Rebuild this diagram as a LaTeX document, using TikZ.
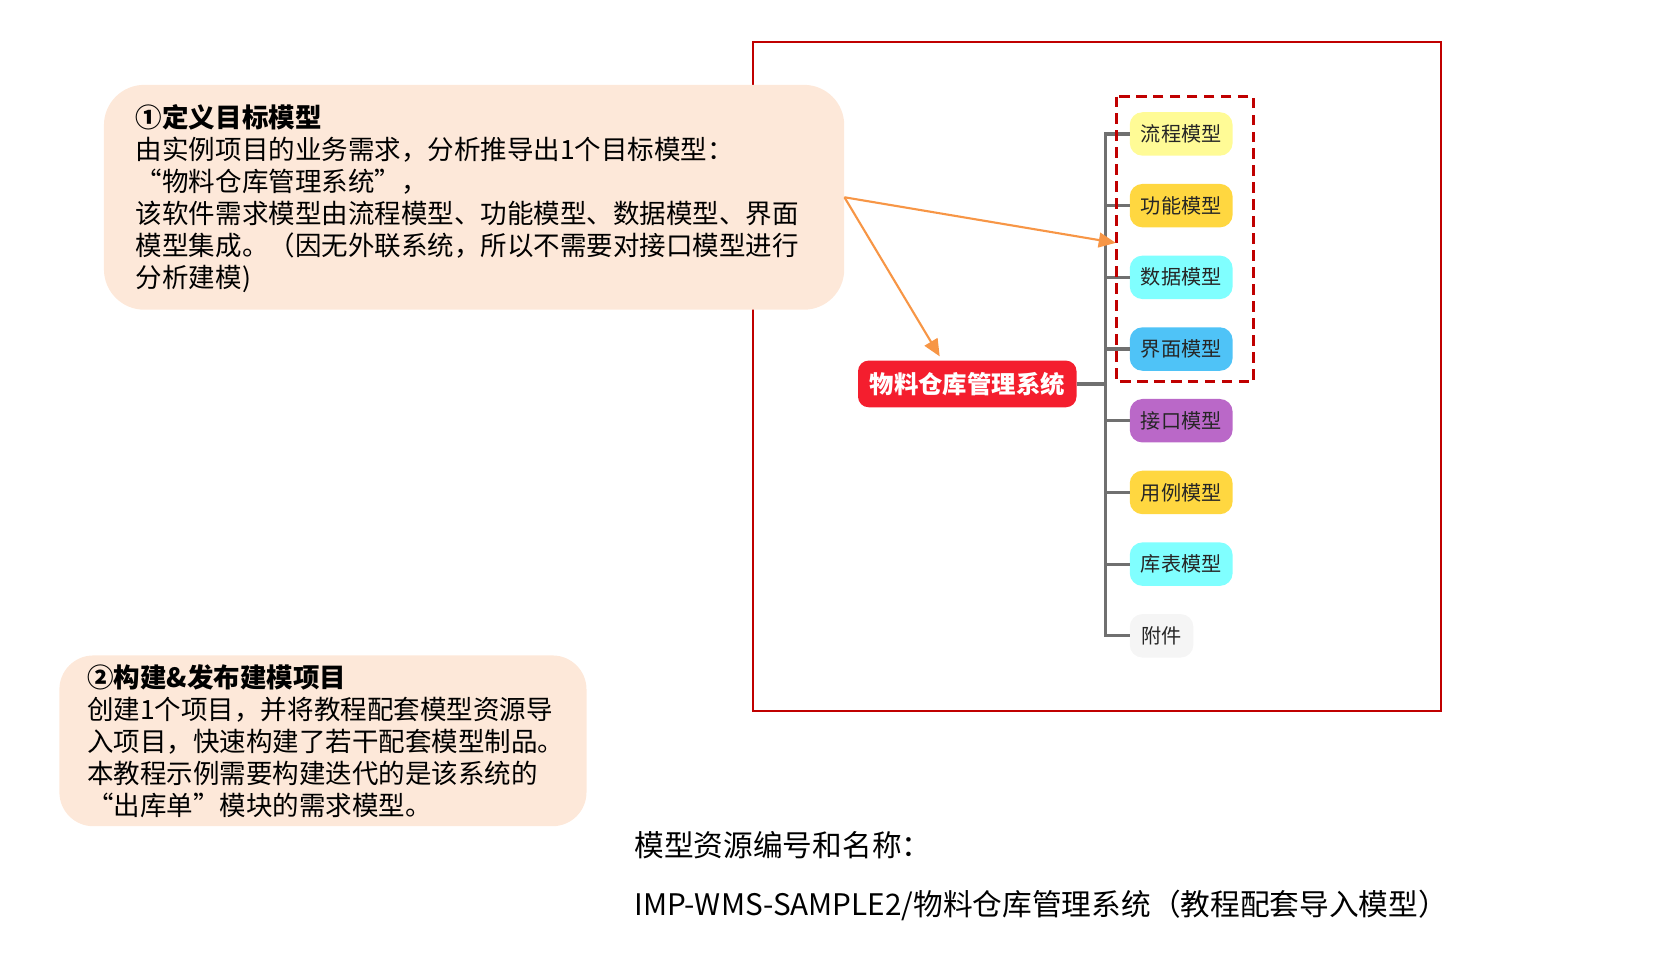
\documentclass[tikz,border=0pt]{standalone}
\usepackage{fontspec}
\setmainfont{Noto Sans CJK SC}
\usetikzlibrary{arrows.meta}
\definecolor{peach}{HTML}{FDE8D9}
\definecolor{frame}{HTML}{C00000}
\definecolor{arrowc}{HTML}{F79646}
\definecolor{conn}{HTML}{707070}
\definecolor{rootc}{HTML}{F41E2E}
\definecolor{cyel}{HTML}{FFFB96}
\definecolor{cgold}{HTML}{FFD740}
\definecolor{ccyan}{HTML}{80FFFF}
\definecolor{cblue}{HTML}{4FC3F7}
\definecolor{cpurp}{HTML}{BA68C8}
\definecolor{cgray}{HTML}{F5F5F5}
\tikzset{
  pbox/.style={fill=peach, draw=none, inner sep=0},
  txtline/.style={anchor=west, inner sep=0, text height=0.88em, text depth=0.12em, font=\fontsize{25}{30}\selectfont},
  txtbig/.style={anchor=west, inner sep=0, text height=0.88em, text depth=0.12em, font=\fontsize{28}{34}\selectfont},
  child/.style={anchor=west, inner sep=0, minimum width=97pt, minimum height=41pt, rounded corners=12pt, text=black!85, font=\fontsize{19}{22}\selectfont},
  connline/.style={draw=conn, line width=3pt},
  oarrow/.style={draw=arrowc, line width=2pt, -{Triangle[length=16pt,width=14pt]}},
}
\begin{document}
\begin{tikzpicture}[x=1pt,y=-1pt]
\useasboundingbox (0,0) rectangle (1568,905);
% red frame
\draw[frame, line width=2pt] (710,40) rectangle (1359,670);
% box 1
\node[pbox, minimum width=698pt, minimum height=212pt, rounded corners=38pt] (b1) at (447,186) {};
\node[txtline, font=\fontsize{25}{30}\selectfont\bfseries] (t10) at (128,116) {①定义目标模型};
\node[txtline] (t11) at (128,147) {由实例项目的业务需求，分析推导出1个目标模型：};
\node[txtline] (t12) at (128,177) {“物料仓库管理系统”，};
\node[txtline] (t13) at (128,207) {该软件需求模型由流程模型、功能模型、数据模型、界面};
\node[txtline] (t14) at (128,237) {模型集成。（因无外联系统，所以不需要对接口模型进行};
\node[txtline] (t15) at (128,267) {分析建模)};
% box 2
\node[pbox, minimum width=497pt, minimum height=161pt, rounded corners=32pt] (b2) at (304.5,698.5) {};
\node[txtline, font=\fontsize{25}{30}\selectfont\bfseries] (t20) at (82,644) {②构建\&发布建模项目};
\node[txtline] (t21) at (82,675) {创建1个项目，并将教程配套模型资源导};
\node[txtline] (t22) at (82,705) {入项目，快速构建了若干配套模型制品。};
\node[txtline] (t23) at (82,735) {本教程示例需要构建迭代的是该系统的};
\node[txtline] (t24) at (82,765) {“出库单”模块的需求模型。};
% bottom text
\node[txtbig] (t31) at (598,804) {模型资源编号和名称：};
\node[txtbig] (t32) at (598,859) {IMP-WMS-SAMPLE2/物料仓库管理系统（教程配套导入模型）};
% mind map
\node[fill=rootc, text=white, inner sep=0, minimum width=206pt, minimum height=44pt, rounded corners=10pt, font=\fontsize{23}{26}\selectfont\bfseries] (root) at (912,362) {物料仓库管理系统};
\node[child, fill=cyel]  (c1) at (1065,126.3) {流程模型};
\node[child, fill=cgold] (c2) at (1065,193.9) {功能模型};
\node[child, fill=ccyan] (c3) at (1065,261.5) {数据模型};
\node[child, fill=cblue] (c4) at (1065,329.1) {界面模型};
\node[child, fill=cpurp] (c5) at (1065,396.7) {接口模型};
\node[child, fill=cgold] (c6) at (1065,464.3) {用例模型};
\node[child, fill=ccyan] (c7) at (1065,531.9) {库表模型};
\node[child, fill=cgray, minimum width=60pt] (c8) at (1065,599.5) {附件};
\coordinate (tk) at (1042,0);
\draw[connline] (root.east) -- (root.east -| tk);
\draw[connline] (c1.west) -- (c1.west -| tk) -- (c8.west -| tk) -- (c8.west);
\foreach \k in {2,...,7} { \draw[connline] (c\k.west) -- (c\k.west -| tk); }
% dashed group
\draw[frame, line width=3pt, dash pattern=on 10pt off 6pt] (1053,91) rectangle (1182,360);
% arrows
\coordinate (a1) at (1052,229);
\coordinate (a2) at (886,336);
\draw[oarrow] (b1.east) -- (a1);
\draw[oarrow] (b1.east) -- (a2);
\end{tikzpicture}
\end{document}
